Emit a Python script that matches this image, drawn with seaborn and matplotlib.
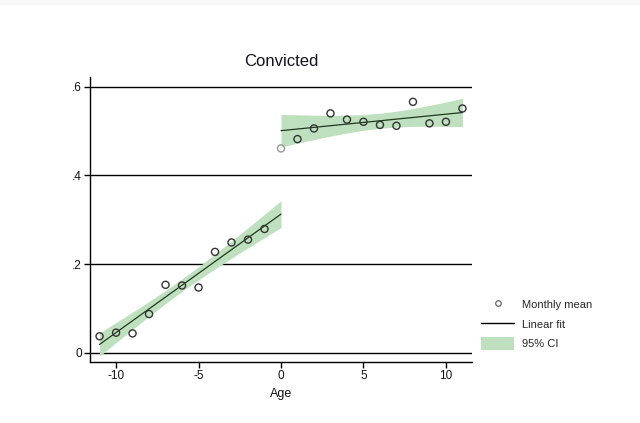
import numpy as np
import pandas as pd
import matplotlib
matplotlib.use("Agg")
import matplotlib.pyplot as plt
import seaborn as sns
from matplotlib.lines import Line2D
from matplotlib.patches import Patch, Rectangle
from matplotlib.ticker import FixedLocator, FixedFormatter

# ---- data ----
age_pre = [-11, -10, -9, -8, -7, -6, -5, -4, -3, -2, -1]
mean_pre = [0.0375, 0.0456, 0.044, 0.0876, 0.1535, 0.152, 0.1475, 0.2277, 0.249, 0.2554, 0.2794]
age_cut = [0]
mean_cut = [0.461]
age_post = [1, 2, 3, 4, 5, 6, 7, 8, 9, 10, 11]
mean_post = [0.482, 0.506, 0.540, 0.526, 0.521, 0.514, 0.512, 0.566, 0.5175, 0.521, 0.551]
fit_pre_range = [-11, 0]
fit_post_range = [0, 11]
ci_scale_pre = 1.0
ci_scale_post = 1.25
y_ticks = [0, 0.2, 0.4, 0.6]
y_ticklabels = ["0", ".2", ".4", ".6"]
x_ticks = [-10, -5, 0, 5, 10]
x_ticklabels = ["-10", "-5", "0", "5", "10"]

GREEN = "#bfe0bf"
LINE = "#1f3a1f"

sns.set_theme(style="ticks")
plt.rcParams["font.family"] = ["Liberation Sans", "DejaVu Sans"]

fig = plt.figure(figsize=(6.4, 4.23), dpi=100)
fig.patches.append(Rectangle((0, 1 - 5 / 423), 1, 5 / 423, transform=fig.transFigure,
                             fc="#f7f7f7", ec="none", zorder=0))
ax = fig.add_axes([90 / 640, 1 - 362 / 423, (472 - 90) / 640, (362 - 77) / 423])


def fit_ci(x, y, lo, hi, scale):
    x = np.asarray(x, float)
    y = np.asarray(y, float)
    n = len(x)
    b, a = np.polyfit(x, y, 1)
    xs = np.linspace(lo, hi, 100)
    yhat = a + b * xs
    resid = y - (a + b * x)
    s = np.sqrt(np.sum(resid ** 2) / (n - 2))
    sxx = np.sum((x - x.mean()) ** 2)
    se = s * np.sqrt(1.0 / n + (xs - x.mean()) ** 2 / sxx)
    t = 2.2622 * scale  # df = 9
    return xs, yhat, yhat - t * se, yhat + t * se


ax.yaxis.grid(True, color="black", lw=1.0)
ax.set_axisbelow(True)

for xv, yv, rng, sc in [(age_pre, mean_pre, fit_pre_range, ci_scale_pre),
                        (age_post, mean_post, fit_post_range, ci_scale_post)]:
    xs, yh, lo, hi = fit_ci(xv, yv, rng[0], rng[1], sc)
    ax.fill_between(xs, lo, hi, color=GREEN, lw=0, zorder=2)
    sns.lineplot(x=xs, y=yh, ax=ax, color=LINE, lw=0.9, zorder=3)
    sns.scatterplot(x=xv, y=yv, ax=ax, marker="o", s=26, facecolor="none",
                    edgecolor="#333333", linewidth=1.0, zorder=4)

sns.scatterplot(x=age_cut, y=mean_cut, ax=ax, marker="o", s=26, facecolor="none",
                edgecolor="#999999", linewidth=1.0, zorder=4)

ax.set_xlim(-11.58, 11.58)
ax.set_ylim(-0.0205, 0.622)
ax.yaxis.set_major_locator(FixedLocator(y_ticks))
ax.yaxis.set_major_formatter(FixedFormatter(y_ticklabels))
ax.xaxis.set_major_locator(FixedLocator(x_ticks))
ax.xaxis.set_major_formatter(FixedFormatter(x_ticklabels))

for sp in ["top", "right"]:
    ax.spines[sp].set_visible(False)
for sp in ["left", "bottom"]:
    ax.spines[sp].set_color("black")
    ax.spines[sp].set_linewidth(1.0)
ax.tick_params(axis="both", direction="out", length=4, width=1, color="black",
               labelsize=8.5, labelcolor="#111111", pad=2)

ax.set_xlabel("Age", fontsize=9, color="#111111", labelpad=4)
ax.set_ylabel("")
ax.set_title("Convicted", fontsize=12, color="#111122", pad=8)

handles = [
    Line2D([], [], marker="o", ls="", mfc="none", mec="#666666", ms=4, mew=0.9),
    Line2D([], [], color="black", lw=1.0),
    Patch(fc=GREEN, ec="none"),
]
fig.legend(handles, ["Monthly mean", "Linear fit", "95% CI"], loc="upper left",
           bbox_to_anchor=(481 / 640, 1 - 298 / 423), frameon=False, fontsize=8,
           handlelength=3.0, handleheight=1.4, handletextpad=0.65, labelspacing=0.6,
           borderaxespad=0, borderpad=0)

fig.savefig("out.png", dpi=100)
